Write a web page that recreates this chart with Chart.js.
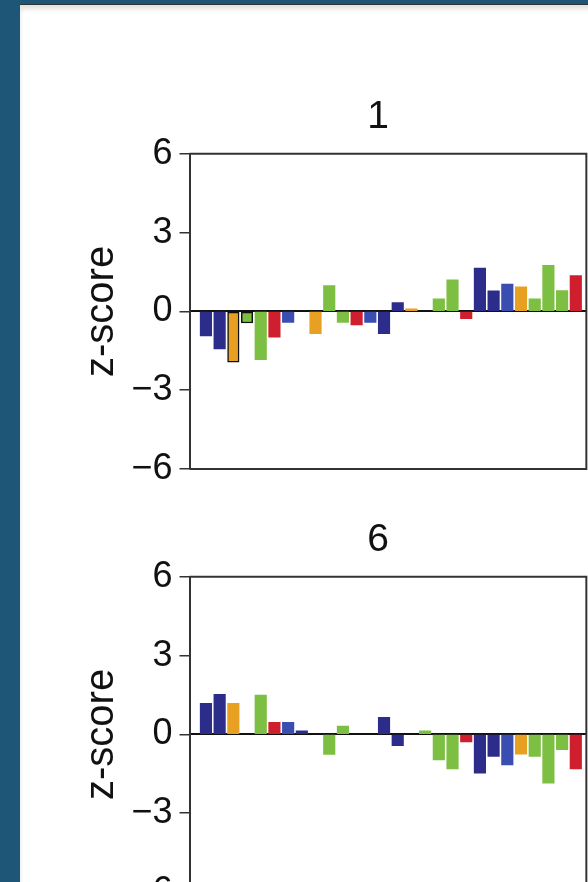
<!DOCTYPE html>
<html>
<head>
<meta charset="utf-8">
<script src="https://cdn.jsdelivr.net/npm/chart.js@4.4.1/dist/chart.umd.min.js"></script>
<style>
    html, body {
        margin: 0;
        padding: 0;
        width: 588px;
        height: 882px;
        overflow: hidden;
        background: #1d5677;
    }
    #sheet {
        position: absolute;
        left: 20px;
        top: 4px;
        width: 700px;
        height: 900px;
        background: #fff;
        border-top: 1px solid #333;
        box-shadow: inset 0 4px 5px rgba(0, 0, 0, 0.12);
    }
    canvas {
        position: absolute;
        left: 78px;
    }
    #chart1 { top: 60px; }
    #chart6 { top: 483px; }
</style>
</head>
<body>
<div id="sheet"></div>
<canvas id="chart1" width="600" height="440"></canvas>
<canvas id="chart6" width="600" height="440"></canvas>

<script>
// Colour group of every slot along the x axis (28 slots)
const slotGroups = [
    'navy', 'navy', 'orange', 'green', 'green', 'red', 'blue', 'navy',
    'orange', 'green', 'green', 'red', 'blue', 'navy', 'navy', 'orange',
    'green', 'green', 'green', 'red', 'navy', 'navy', 'blue', 'orange',
    'green', 'green', 'green', 'red'
];

// z-scores (null = no bar)
const panel1Values = [
    -0.93, -1.43, -1.93, -0.44, -1.84, -0.98, -0.42, null,
    -0.85, 0.98, -0.42, -0.51, -0.42, -0.85, 0.34, 0.10,
    null, 0.48, 1.20, -0.28, 1.65, 0.78, 1.04, 0.94,
    0.48, 1.75, 0.79, 1.36
];
const panel6Values = [
    1.18, 1.53, 1.18, null, 1.50, 0.46, 0.46, 0.14,
    null, -0.76, 0.32, null, null, 0.65, -0.43, null,
    0.14, -0.97, -1.31, -0.29, -1.48, -0.84, -1.16, -0.75,
    -0.84, -1.86, -0.58, -1.31
];
// bars drawn with a black outline in panel 1
const panel1Outlined = [2, 3];

const panelTitles = ['1', '6'];
const yTicks = [-6, -3, 0, 3, 6];

// x range of the scale; the panel box closes at xFrameEnd
const xMin = -1.2;
const xMax = 34.46;
const xFrameEnd = 27.77;

const groupColors = {
    navy: '#2c2d8b',
    blue: '#3a4db0',
    orange: '#e8a022',
    green: '#7cbf42',
    red: '#cf1f2e'
};

const fontFamily = '"Liberation Sans", Arial, Helvetica, sans-serif';

// Draws the box around the plot (top, right, bottom) and clears past its right edge
const framePlugin = {
    id: 'frame',
    afterDraw(chart) {
        const { ctx, chartArea, scales } = chart;
        const right = scales.x.getPixelForValue(xFrameEnd);
        ctx.save();
        ctx.clearRect(right, 0, chart.width - right, chart.height);
        ctx.strokeStyle = '#333';
        ctx.lineWidth = 2;
        ctx.beginPath();
        ctx.moveTo(chartArea.left, chartArea.top);
        ctx.lineTo(right, chartArea.top);
        ctx.lineTo(right, chartArea.bottom);
        ctx.lineTo(chartArea.left, chartArea.bottom);
        ctx.stroke();
        ctx.restore();
    }
};

function buildPanel(canvasId, title, values, outlined) {
    const points = [];
    const colors = [];
    const borders = [];
    values.forEach((v, i) => {
        if (v === null) return;
        points.push({ x: i, y: v });
        colors.push(groupColors[slotGroups[i]]);
        borders.push(outlined.includes(i) ? 1.5 : 0);
    });

    const ctx = document.getElementById(canvasId).getContext('2d');
    return new Chart(ctx, {
        type: 'bar',
        data: {
            datasets: [{
                data: points,
                backgroundColor: colors,
                borderColor: '#111',
                borderWidth: borders,
                borderSkipped: false,
                barThickness: 11.5,
                grouped: false
            }]
        },
        options: {
            responsive: false,
            animation: false,
            layout: {
                padding: { left: 0, right: 0, top: 0, bottom: 31 }
            },
            plugins: {
                legend: { display: false },
                tooltip: { enabled: false },
                title: {
                    display: true,
                    text: title,
                    color: '#111',
                    font: { family: fontFamily, size: 39, weight: 'normal' },
                    padding: { top: 34, bottom: 13 }
                }
            },
            scales: {
                x: {
                    type: 'linear',
                    min: xMin,
                    max: xMax,
                    offset: false,
                    position: { y: 0 },
                    ticks: { display: false },
                    grid: { display: false, offset: false },
                    border: { display: true, color: '#111', width: 2 }
                },
                y: {
                    min: -6,
                    max: 6,
                    afterBuildTicks: scale => {
                        scale.ticks = yTicks.map(v => ({ value: v }));
                    },
                    afterFit: scale => {
                        scale.width = 111.5;
                    },
                    ticks: {
                        color: '#111',
                        padding: 7,
                        font: { family: fontFamily, size: 36 },
                        callback: v => (v < 0 ? '\u2212' + Math.abs(v) : String(v))
                    },
                    grid: {
                        drawOnChartArea: false,
                        drawTicks: true,
                        tickLength: 10,
                        color: '#333',
                        lineWidth: 1.5
                    },
                    border: { display: true, color: '#333', width: 2 },
                    title: {
                        display: true,
                        text: 'z-score',
                        color: '#111',
                        padding: 0,
                        font: { family: fontFamily, size: 40 }
                    }
                }
            }
        },
        plugins: [framePlugin]
    });
}

buildPanel('chart1', panelTitles[0], panel1Values, panel1Outlined);
buildPanel('chart6', panelTitles[1], panel6Values, []);
</script>
</body>
</html>
